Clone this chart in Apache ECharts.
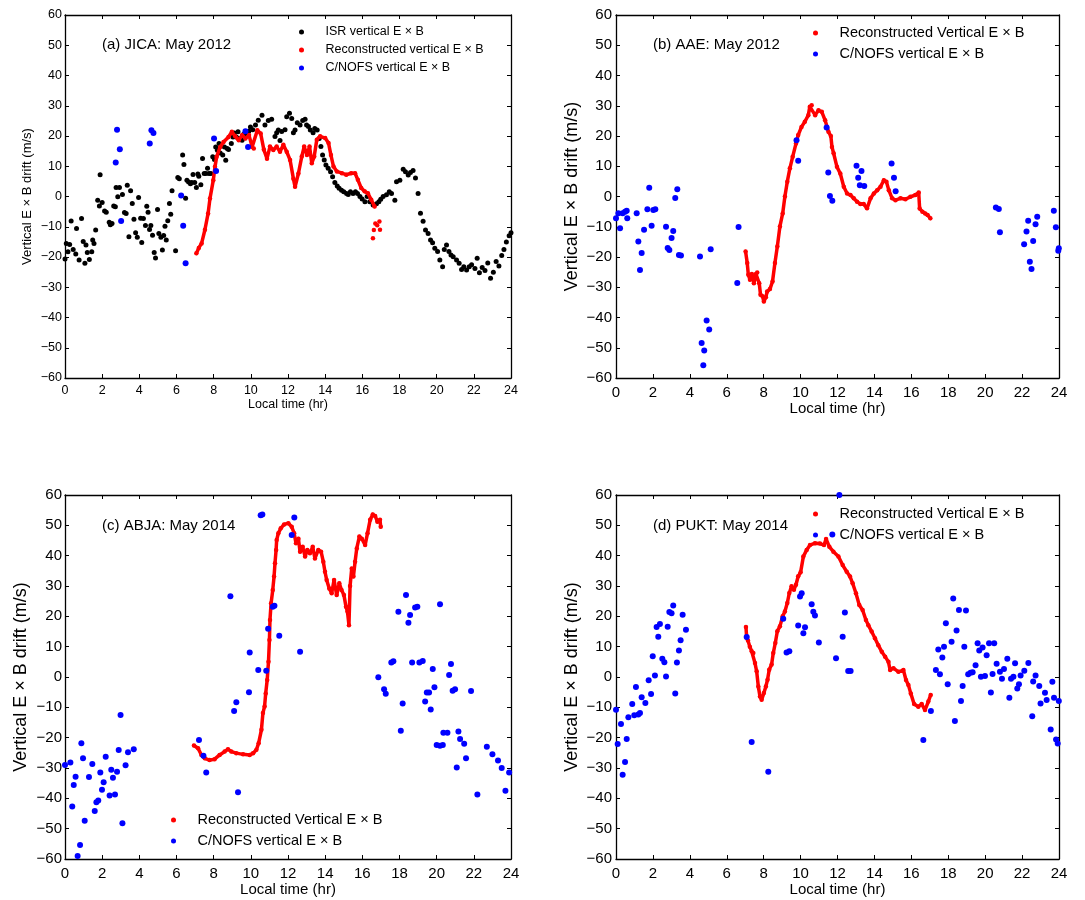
<!DOCTYPE html>
<html>
<head>
<meta charset="utf-8">
<title>Vertical E×B drift</title>
<script src="https://cdn.jsdelivr.net/npm/echarts@6/dist/echarts.min.js"></script>
<style>
  html, body { margin: 0; padding: 0; background: #fff; }
  #chart { width: 1085px; height: 900px; }
</style>
</head>
<body>
<div id="chart"></div>
<script>
// ---- Local time axis and drift axis ----
const hourTicks = { min: 0, max: 24, step: 2 };
const driftTicks = { min: -60, max: 60, step: 10 };

// ---- (a) JICA, May 2012 : [local time (hr), drift (m/s)] ----
const isrA = [
  [0,-20.7],[0.07,-15.5],[0.16,-18.3],[0.25,-15.9],[0.33,-8.1],[0.44,-17.5],[0.58,-19],[0.62,-10.6],[0.76,-21],[0.89,-7.3],
  [0.98,-14.9],[1.07,-22.1],[1.13,-16],[1.2,-18.5],[1.31,-20.8],[1.44,-18.3],[1.49,-14.4],[1.56,-15.5],[1.65,-11.1],[1.76,-1.2],
  [1.85,-3.1],[1.89,7.2],[2.0,-2],[2.13,-4.8],[2.22,-5.2],[2.38,-8.5],[2.44,-9.3],[2.53,-8.9],[2.62,-3.1],[2.71,-3.4],
  [2.75,3],[2.84,-0.1],[2.93,3],[3.09,0.7],[3.2,-5.3],[3.29,-5.6],[3.35,3.7],[3.44,-13.3],[3.53,1.9],[3.62,-2.3],
  [3.71,-7.5],[3.8,-12],[3.89,-13.5],[3.96,-0.3],[4.07,-7.2],[4.13,-15.2],[4.22,-7.3],[4.33,-9.6],[4.4,-3.2],[4.47,-5.2],
  [4.55,-10.9],[4.62,-9.6],[4.71,-12.8],[4.8,-18.5],[4.87,-20.3],[4.98,-4.3],[5.05,-12.2],[5.16,-13.5],[5.24,-17.7],[5.31,-12.9],
  [5.38,-9.8],[5.45,-14.4],[5.53,-8],[5.62,-2.3],[5.69,-5.9],[5.76,1.9],[5.95,-17.9],[6.07,6.3],[6.15,5.9],[6.33,13.7],
  [6.4,10.6],[6.49,-0.6],[6.56,5.4],[6.65,4.8],[6.75,4.2],[6.82,4.6],[6.89,7.3],[6.98,4.6],[7.07,3],[7.15,7.4],
  [7.2,6.7],[7.31,3.9],[7.4,12.6],[7.49,7.6],[7.58,7.6],[7.67,9.3],[7.75,7.6],[7.85,7.6],[7.95,13.1],[8.04,12.2],
  [8.11,16.4],[8.2,15.3],[8.29,17.5],[8.35,14.4],[8.49,13.7],[8.58,16.4],[8.65,12],[8.73,15.9],[8.8,15.5],[8.95,17.5],
  [9.04,19.7],[9.11,21],[9.22,19.7],[9.31,21.4],[9.4,19.2],[9.53,18.6],[9.62,20.6],[9.71,20.3],[9.89,21.6],[9.98,23],
  [10.1,22.1],[10.25,23.6],[10.4,25.2],[10.6,26.9],[10.76,23.6],[10.94,25.1],[11.12,25.5],[11.3,19.8],[11.39,21.1],[11.48,22],
  [11.57,18.5],[11.66,21.5],[11.84,22.1],[11.93,26.4],[12.08,27.5],[12.2,25.8],[12.29,21.1],[12.38,22],[12.5,24.4],[12.65,23.6],
  [12.79,25.1],[12.92,25.5],[13.0,23.6],[13.1,23.1],[13.2,22],[13.35,21.1],[13.44,22.5],[13.57,22],[13.68,19.2],[13.77,16.5],
  [13.86,13.7],[13.95,12.1],[14.04,10.4],[14.16,9.3],[14.29,8.2],[14.4,6.5],[14.52,4.6],[14.65,3.5],[14.75,2.7],[14.88,2.1],
  [15.0,1.6],[15.15,1.0],[15.24,0.7],[15.36,1.6],[15.5,1.0],[15.63,1.6],[15.74,1.0],[15.87,0],[15.99,-0.8],[16.14,-1.7],
  [16.26,0],[16.4,-1.7],[16.58,-2.8],[16.76,-2.4],[16.89,-1.7],[16.99,-0.9],[17.12,0],[17.3,0.6],[17.45,1.6],[17.57,1],
  [17.75,-1.2],[17.84,4.9],[18.02,5.4],[18.2,9.0],[18.32,8.2],[18.47,7.1],[18.59,7.9],[18.73,8.6],[18.86,6.1],[19.0,1.0],
  [19.13,-5.5],[19.27,-8.2],[19.4,-11.1],[19.54,-12.2],[19.67,-14.4],[19.78,-15.3],[19.9,-17.1],[20.05,-18.2],[20.17,-21],[20.32,-23.2],
  [20.41,-17.5],[20.53,-16],[20.66,-18.2],[20.77,-19.3],[20.89,-19.9],[21.07,-21],[21.21,-22.1],[21.34,-24.1],[21.46,-23.2],[21.61,-24.3],
  [21.75,-23.2],[21.88,-22.6],[22.06,-23.8],[22.18,-20.4],[22.3,-25.2],[22.45,-23.5],[22.6,-24.5],[22.75,-22],[22.9,-27],[23.05,-25],
  [23.2,-21.5],[23.35,-23],[23.5,-19.5],[23.62,-17.5],[23.75,-15],[23.9,-13],[24,-12]
];
const reconA = [
  [7.07,-18.8],[7.2,-17],[7.35,-15.5],[7.53,-11],[7.7,-5.6],[7.8,-0.7],[7.98,5.4],[8.07,9.8],[8.16,13.1],[8.35,16.4],
  [8.53,18],[8.8,19.7],[8.98,21.4],[9.16,19.9],[9.35,18.6],[9.53,20.3],[9.71,19.2],[9.9,20.3],[10.07,16.4],[10.16,15.9],
  [10.35,21.9],[10.53,20.8],[10.7,15.5],[10.87,12.5],[11.03,16.5],[11.21,15.4],[11.39,16.5],[11.57,14.8],[11.75,17.1],[11.93,14.8],
  [12.11,12.1],[12.29,5.9],[12.38,3.2],[12.56,7.6],[12.74,13.2],[12.87,16.5],[13.02,13.7],[13.16,16.5],[13.28,11],[13.41,13.2],
  [13.55,18.8],[13.73,19.9],[14.0,19.3],[14.18,17.7],[14.31,13.7],[14.45,9.9],[14.63,8.3],[14.9,7.7],[15.13,7.2],[15.4,7.7],
  [15.61,7.7],[15.76,5.5],[15.94,2.8],[16.12,1.7],[16.3,1.1],[16.48,-1.1],[16.66,-3.3]
];
const reconAlate = [[16.57,-13.8],[16.62,-11.1],[16.7,-8.9],[16.8,-9.5],[16.92,-8.3],[16.95,-11]];
const cnofsA = [
  [2.73,11.2],[2.8,22.1],[2.95,15.6],[3.02,-8.1],[4.56,17.5],[4.65,21.9],[4.76,21],[6.25,0.3],[6.36,-9.7],[6.49,-22.1],
  [8.02,19.2],[8.13,8.4],[9.71,21.6],[9.85,16.4]
];

// ---- (b) AAE, May 2012 ----
const reconB = [
  [7.02,-18.2],[7.11,-22],[7.17,-25.9],[7.26,-27.5],[7.36,-25.6],[7.47,-28.7],[7.58,-25.6],[7.65,-25.1],[7.76,-28.7],[7.83,-32.5],
  [7.94,-33],[8.01,-34.7],[8.12,-33.3],[8.19,-31.4],[8.34,-30.6],[8.48,-28.1],[8.61,-22],[8.74,-16.5],[8.88,-9.9],[9.03,-5.6],
  [9.15,0],[9.28,4.9],[9.42,9.3],[9.57,13.1],[9.75,17.5],[9.87,20.3],[10.05,23],[10.23,24.7],[10.42,26.9],[10.5,29.7],
  [10.6,30.2],[10.79,26.9],[10.97,28.5],[11.15,28],[11.33,25.2],[11.51,21.4],[11.64,20],[11.7,16.4],[11.79,14.3],[11.97,9.8],
  [12.15,7.6],[12.34,3.2],[12.52,1],[12.7,0.5],[12.88,-0.6],[13.06,-1.7],[13.24,-2.5],[13.42,-2.5],[13.6,-3.9],[13.79,-0.6],
  [13.97,1],[14.15,2.1],[14.33,3.2],[14.51,5.4],[14.65,4.9],[14.78,2.1],[14.96,-0.6],[15.14,-1.2],[15.41,-0.6],[15.68,-0.9],
  [15.95,-0.1],[16.22,0.5],[16.4,1.3],[16.45,-4],[16.6,-5],[16.75,-5.6],[16.88,-6.1],[17.03,-7.2]
];
const cnofsB = [
  [0,-7.2],[0.13,-5.5],[0.22,-10.5],[0.36,-5.5],[0.49,-5],[0.58,-4.7],[0.61,-7.2],[1.12,-5.5],[1.21,-14.9],[1.3,-24.3],
  [1.39,-18.7],[1.52,-11],[1.7,-4.2],[1.8,2.9],[1.93,-9.7],[2.02,-4.5],[2.13,-4.2],[2.71,-10],[2.8,-17],[2.89,-17.7],
  [3.01,-13.7],[3.1,-11.4],[3.21,-0.5],[3.32,2.4],[3.41,-19.3],[3.52,-19.5],[4.55,-19.8],[4.64,-48.4],[4.73,-55.8],[4.78,-50.9],
  [4.91,-41],[5.05,-44],[5.13,-17.4],[6.57,-28.6],[6.64,-10.1],[9.78,18.6],[9.87,11.8],[11.41,22.8],[11.5,7.9],[11.59,0.2],
  [11.72,-1.4],[13.03,10.2],[13.12,6.2],[13.21,3.7],[13.3,8.4],[13.45,3.5],[14.93,10.9],[15.06,6.2],[15.15,1.7],[20.58,-3.6],
  [20.74,-4.1],[20.8,-11.8],[22.11,-15.8],[22.24,-11.6],[22.33,-8],[22.42,-21.6],[22.51,-24],[22.6,-14.7],[22.73,-9.2],[22.82,-6.7],
  [23.72,-4.7],[23.83,-10.2],[23.96,-17.9],[23.99,-17.1]
];

// ---- (c) ABJA, May 2014 ----
const reconC = [
  [6.94,-22.6],[7.16,-23.5],[7.34,-25.7],[7.52,-26.8],[7.78,-27.4],[8.05,-27.1],[8.32,-25.7],[8.59,-24.6],[8.77,-23.8],[8.95,-24.6],
  [9.22,-25.1],[9.58,-25.5],[9.94,-25.7],[10.12,-25.1],[10.3,-24],[10.42,-21.8],[10.57,-17.4],[10.65,-11.9],[10.74,-9.7],[10.8,-5.4],
  [10.88,-1],[10.95,5],[11.0,12.2],[11.03,18.8],[11.09,24.3],[11.18,28.7],[11.25,33.1],[11.3,37.5],[11.36,41.9],[11.39,45.2],
  [11.48,47.4],[11.61,49],[11.79,50.3],[12.02,50.7],[12.2,49.5],[12.33,47.4],[12.43,44.1],[12.56,45.6],[12.65,41.3],[12.79,42.9],
  [12.92,39.7],[13.04,41.9],[13.18,40.8],[13.33,42.9],[13.45,39.1],[13.63,41.9],[13.78,41.3],[13.9,38],[13.99,34.7],[14.08,32],
  [14.22,29.2],[14.35,27.6],[14.48,32],[14.62,27],[14.76,30.9],[14.88,28.7],[15.01,27],[15.12,23.2],[15.2,21.6],[15.28,17.1],
  [15.34,30],[15.43,35.8],[15.52,33.1],[15.61,38],[15.7,42.4],[15.84,46.3],[15.97,45.6],[16.15,43.5],[16.28,47.4],[16.42,51.8],
  [16.56,53.6],[16.69,53.1],[16.81,51.2],[16.95,51.8],[16.99,49.5]
];
const cnofsC = [
  [0,-29],[0.29,-28.2],[0.39,-42.7],[0.47,-35.6],[0.57,-32.9],[0.68,-59],[0.81,-55.4],[0.88,-21.8],[0.97,-26.8],[1.06,-47.4],
  [1.29,-33],[1.47,-28.7],[1.6,-44.2],[1.69,-41.3],[1.79,-40.7],[1.9,-31.5],[1.99,-37.2],[2.08,-34.7],[2.19,-26.3],[2.4,-39.1],
  [2.49,-30.6],[2.58,-33.2],[2.69,-38.7],[2.8,-31.2],[2.89,-24.1],[2.99,-12.5],[3.09,-48.2],[3.26,-29.1],[3.39,-24.8],[3.7,-23.8],
  [7.21,-20.8],[7.45,-26],[7.6,-31.5],[8.9,26.6],[9.1,-11.2],[9.22,-8.3],[9.31,-38],[9.9,-5],[9.94,8.1],[10.4,2.3],
  [10.53,53.3],[10.62,53.6],[10.83,2.1],[10.93,15.9],[11.18,23.2],[11.27,23.5],[11.53,13.6],[12.2,46.8],[12.34,52.6],[12.65,8.3],
  [16.86,-0.1],[17.17,-4],[17.26,-5.5],[17.56,4.8],[17.67,5.2],[17.94,21.5],[18.07,-17.7],[18.17,-8.7],[18.35,27],[18.48,17.9],
  [18.57,20.4],[18.68,4.8],[18.84,22.9],[18.96,23.2],[19.07,4.8],[19.25,5.3],[19.38,-8.1],[19.47,-5.1],[19.59,-5.1],[19.68,-10.7],
  [19.79,2.6],[19.88,-3.4],[20.0,-22.4],[20.18,24],[20.18,-22.7],[20.33,-22.4],[20.36,-18.4],[20.58,-18.4],[20.67,0.7],[20.77,4.3],
  [20.86,-4.5],[20.99,-4],[21.08,-29.8],[21.17,-18],[21.26,-20.4],[21.48,-22],[21.58,-26.8],[21.85,-4.6],[22.19,-38.7],[22.7,-23],
  [23.0,-25.5],[23.3,-27.5],[23.5,-30],[23.7,-37.5],[23.9,-31.5]
];

// ---- (d) PUKT, May 2014 ----
const reconD = [
  [7.04,16.5],[7.08,13],[7.15,12],[7.25,10],[7.35,8.5],[7.44,7.9],[7.53,4.6],[7.62,1.9],[7.71,-3.1],[7.8,-6.4],
  [7.89,-7.5],[8.01,-5.3],[8.12,-3.1],[8.21,-0.9],[8.3,2.4],[8.43,4.1],[8.52,7.9],[8.63,11.2],[8.74,15.1],[8.88,16.7],
  [9.03,20],[9.15,21.6],[9.28,24.4],[9.39,27.7],[9.51,29.9],[9.64,28.8],[9.75,30.4],[9.87,33.2],[10.0,34.5],[10.15,39.7],
  [10.33,41.9],[10.51,43.5],[10.78,44.1],[11.05,44],[11.27,43.5],[11.38,45.5],[11.56,42.9],[11.78,41.3],[12.05,39.7],[12.28,36.9],
  [12.5,34.7],[12.68,33.1],[12.82,30.9],[13.0,27.6],[13.18,23.7],[13.36,22.1],[13.54,18.8],[13.67,17.1],[13.85,15],[14.03,12.8],
  [14.21,10.5],[14.4,8.3],[14.58,6.7],[14.76,5],[14.85,2.3],[15.03,2.9],[15.3,1.7],[15.57,2.3],[15.71,-1],[15.84,-2.6],
  [15.97,-5.4],[16.15,-8.9],[16.38,-9.8],[16.56,-8.9],[16.74,-10.9],[16.92,-8.1],[17.05,-5.9]
];
const cnofsD = [
  [0,-10.8],[0.09,-22.1],[0.27,-15.5],[0.36,-32.2],[0.49,-28],[0.58,-20.4],[0.67,-13.3],[0.88,-8.9],[0.99,-12.6],[1.08,-3.3],
  [1.21,-12.4],[1.3,-11.9],[1.39,-6.7],[1.59,-8.6],[1.77,-1.1],[1.9,-5.6],[1.99,6.8],[2.11,0.5],[2.2,16.5],[2.29,13.3],
  [2.38,17.5],[2.51,6],[2.62,4.9],[2.71,0.2],[2.8,16.6],[2.89,21.4],[3.01,21],[3.1,23.6],[3.21,-5.4],[3.3,4.8],
  [3.41,8.7],[3.5,12.1],[3.61,20.5],[3.79,15.6],[7.08,13.2],[7.35,-21.4],[8.25,-31.2],[9.06,19.2],[9.24,8.1],[9.39,8.5],
  [9.87,17],[9.97,26.5],[10.06,27.6],[10.15,14.4],[10.24,16.4],[10.6,24],[10.69,21.5],[10.78,20.3],[10.99,11.4],[11.72,47],
  [11.92,6.2],[12.1,60],[12.28,13.3],[12.4,21.3],[12.58,2],[12.71,2],[16.65,-20.8],[17.06,-11.2],[17.33,2.3],[17.46,9.1],
  [17.55,0.9],[17.68,6.4],[17.77,10],[17.87,17.7],[17.97,-2.4],[18.18,11.6],[18.27,25.9],[18.36,-14.5],[18.45,15.3],[18.58,22.1],
  [18.69,-7.9],[18.78,-3],[18.87,10],[18.96,21.9],[19.08,0.9],[19.21,1.4],[19.32,1.6],[19.48,3.9],[19.59,11.1],[19.68,8.7],
  [19.77,0.1],[19.86,9.7],[19.99,0.3],[20.08,7.2],[20.21,11.1],[20.31,-5.1],[20.4,1],[20.49,11.1],[20.62,4.4],[20.8,1.7],
  [20.91,-0.6],[21.02,2.6],[21.2,6],[21.31,-6.8],[21.4,-0.6],[21.53,0.1],[21.62,4.5],[21.74,-3.8],[21.83,-2.4],[21.92,0.5],
  [22.12,2.1],[22.34,4.6],[22.55,-12.9],[22.6,-1.5],[22.73,0.5],[22.93,-3],[23.0,-8.7],[23.24,-5.2],[23.33,-7.6],[23.55,-17.3],
  [23.64,-1.6],[23.73,-6.8],[23.84,-20.6],[23.93,-21.9],[23.99,-7.9]
];

// ---- Text ----
const panelTitles = ['(a) JICA: May 2012', '(b) AAE: May 2012', '(c) ABJA: May 2014', '(d) PUKT: May 2014'];
const xName = 'Local time (hr)';
const yName = 'Vertical E \u00d7 B drift (m/s)';
const nameISR = 'ISR vertical E \u00d7 B';
const nameReconLower = 'Reconstructed vertical E \u00d7 B';
const nameRecon = 'Reconstructed Vertical E \u00d7 B';
const nameCnofs = 'C/NOFS vertical E \u00d7 B';

// ---- Layout ----
const FONT = '"Liberation Sans", Arial, Helvetica, sans-serif';
const RED = '#ff0000', BLUE = '#0000ff', BLACK = '#000000';

const panels = [
  { left: 65,  top: 15,  width: 446, height: 363, tickFs: 12.5, nameFs: 13, xNameFs: 12.5, yGap: 31, xGap: 20, xMargin: 6, yMargin: 3 },
  { left: 616, top: 15,  width: 443, height: 363, tickFs: 15,   nameFs: 18, xNameFs: 15,   yGap: 35, xGap: 23, xMargin: 7, yMargin: 4 },
  { left: 65,  top: 495, width: 446, height: 364, tickFs: 15,   nameFs: 18, xNameFs: 15,   yGap: 35, xGap: 23, xMargin: 7, yMargin: 3 },
  { left: 616, top: 495, width: 443, height: 364, tickFs: 15,   nameFs: 18, xNameFs: 15,   yGap: 35, xGap: 23, xMargin: 7, yMargin: 4 }
];

const minusFmt = v => (v < 0 ? '\u2212' + Math.abs(v) : String(v));
const frameLine = { show: true, onZero: false, lineStyle: { color: BLACK, width: 1.3 } };
const tickIn = { show: true, inside: true, length: 4, lineStyle: { color: BLACK, width: 1 } };

const grids = [], xAxes = [], yAxes = [], titles = [];
panels.forEach((p, i) => {
  grids.push({ left: p.left, top: p.top, width: p.width, height: p.height, outerBoundsMode: 'none', containLabel: false });
  // bottom (labelled) and top (ticks only)
  xAxes.push({
    gridIndex: i, type: 'value', position: 'bottom',
    min: hourTicks.min, max: hourTicks.max, interval: hourTicks.step,
    name: xName, nameLocation: 'middle', nameGap: p.xGap, nameMoveOverlap: false,
    nameTextStyle: { fontSize: p.xNameFs, color: BLACK, fontFamily: FONT },
    axisLine: frameLine, axisTick: tickIn, splitLine: { show: false },
    axisLabel: { fontSize: p.tickFs, color: BLACK, fontFamily: FONT, margin: p.xMargin, showMinLabel: true, showMaxLabel: true }
  });
  xAxes.push({
    gridIndex: i, type: 'value', position: 'top',
    min: hourTicks.min, max: hourTicks.max, interval: hourTicks.step,
    axisLine: frameLine, axisTick: tickIn, splitLine: { show: false }, axisLabel: { show: false }
  });
  // left (labelled) and right (ticks only)
  yAxes.push({
    gridIndex: i, type: 'value', position: 'left',
    min: driftTicks.min, max: driftTicks.max, interval: driftTicks.step,
    name: yName, nameLocation: 'middle', nameGap: p.yGap, nameRotate: 90, nameMoveOverlap: false,
    nameTextStyle: { fontSize: p.nameFs, color: BLACK, fontFamily: FONT },
    axisLine: frameLine, axisTick: tickIn, splitLine: { show: false },
    axisLabel: { fontSize: p.tickFs, color: BLACK, fontFamily: FONT, margin: p.yMargin, formatter: minusFmt, showMinLabel: true, showMaxLabel: true }
  });
  yAxes.push({
    gridIndex: i, type: 'value', position: 'right',
    min: driftTicks.min, max: driftTicks.max, interval: driftTicks.step,
    axisLine: frameLine, axisTick: tickIn, splitLine: { show: false }, axisLabel: { show: false }
  });
  titles.push({
    text: panelTitles[i],
    left: [102, 653, 102, 653][i],
    top: [36, 36, 517, 517][i],
    padding: 0,
    textStyle: { fontSize: 15, fontWeight: 'normal', color: BLACK, fontFamily: FONT, lineHeight: 18 }
  });
});

// axis indices: bottom x = 2*i, left y = 2*i
function dots(name, data, i, color, size, z) {
  return { name, type: 'scatter', xAxisIndex: 2 * i, yAxisIndex: 2 * i, data, symbol: 'circle', symbolSize: size,
           itemStyle: { color, opacity: 1 }, z, emphasis: { disabled: true }, silent: true };
}
function trace(name, data, i) {
  return { name, type: 'line', xAxisIndex: 2 * i, yAxisIndex: 2 * i, data, symbol: 'circle', symbolSize: 4.5, showSymbol: true,
           lineStyle: { color: RED, width: 3.5, join: 'round', cap: 'round' }, itemStyle: { color: RED }, z: 3,
           emphasis: { disabled: true }, silent: true };
}

const series = [
  dots(nameISR, isrA, 0, BLACK, 5, 2),
  trace(nameReconLower, reconA, 0),
  dots(nameReconLower, reconAlate, 0, RED, 4.5, 3),
  dots(nameCnofs, cnofsA, 0, BLUE, 6, 4),

  trace(nameRecon, reconB, 1),
  dots(nameCnofs, cnofsB, 1, BLUE, 6, 4),

  trace(nameRecon, reconC, 2),
  dots(nameCnofs, cnofsC, 2, BLUE, 6, 4),

  trace(nameRecon, reconD, 3),
  dots(nameCnofs, cnofsD, 3, BLUE, 6, 4)
];

function legendBox(names, left, top, fs, lh) {
  return {
    orient: 'vertical', left, top, padding: 0, itemGap: 0, itemWidth: 38, itemHeight: 5,
    selectedMode: false,
    data: names.map(n => ({ name: n, icon: 'circle' })),
    textStyle: { fontSize: fs, color: BLACK, fontFamily: FONT, lineHeight: lh }
  };
}

const legends = [
  legendBox([nameISR, nameReconLower, nameCnofs], 299, 23, 12.5, 18),
  legendBox([nameRecon, nameCnofs], 813, 22.5, 14.5, 21),
  legendBox([nameRecon, nameCnofs], 171, 809.5, 14.5, 21),
  legendBox([nameRecon, nameCnofs], 813, 503.5, 14.5, 21)
];

const chart = echarts.init(document.getElementById('chart'), null, { renderer: 'canvas' });
chart.setOption({
  animation: false,
  backgroundColor: '#ffffff',
  textStyle: { fontFamily: FONT },
  title: titles,
  legend: legends,
  grid: grids,
  xAxis: xAxes,
  yAxis: yAxes,
  tooltip: { show: false },
  series
});
</script>
</body>
</html>
